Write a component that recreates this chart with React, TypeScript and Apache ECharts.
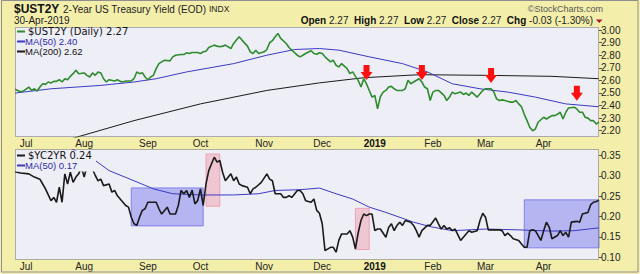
import React, { useEffect, useRef } from "react";
import * as echarts from "echarts";

// ---------- calendar ----------
const HOLIDAYS = [
  "2018-07-04", "2018-09-03", "2018-11-22", "2018-12-05", "2018-12-25",
  "2019-01-01", "2019-01-21", "2019-02-18", "2019-04-19",
];
function buildTradingDays(startIso: string, endIso: string): string[] {
  const out: string[] = [];
  const start = Date.parse(startIso + "T00:00:00Z");
  const end = Date.parse(endIso + "T00:00:00Z");
  for (let t = start; t <= end; t += 86400000) {
    const d = new Date(t);
    const wd = d.getUTCDay();
    const iso = d.toISOString().slice(0, 10);
    if (wd === 0 || wd === 6 || HOLIDAYS.includes(iso)) continue;
    out.push(iso);
  }
  return out;
}
const tradingDays = buildTradingDays("2018-06-26", "2019-04-30");

const MONTH_LABELS: Record<string, string> = {
  "07": "Jul", "08": "Aug", "09": "Sep", "10": "Oct", "11": "Nov", "12": "Dec",
  "01": "2019", "02": "Feb", "03": "Mar", "04": "Apr",
};
const YEAR_MONTHS = ["01"];

const topTicks = [2.2, 2.3, 2.4, 2.5, 2.6, 2.7, 2.8, 2.9, 3.0];
const bottomTicks = [0.1, 0.15, 0.2, 0.25, 0.3, 0.35];

// ---------- data ----------
const ust2y: [string, number][] = [
  ["2018-06-26", 2.53], ["2018-06-27", 2.52], ["2018-06-28", 2.51], ["2018-06-29", 2.515],
  ["2018-07-03", 2.547], ["2018-07-05", 2.52], ["2018-07-06", 2.533], ["2018-07-09", 2.515],
  ["2018-07-10", 2.547], ["2018-07-11", 2.573], ["2018-07-12", 2.568], ["2018-07-13", 2.587],
  ["2018-07-16", 2.579], ["2018-07-17", 2.592], ["2018-07-18", 2.592], ["2018-07-19", 2.605],
  ["2018-07-20", 2.587], ["2018-07-23", 2.613], ["2018-07-24", 2.605], ["2018-07-25", 2.632],
  ["2018-07-26", 2.653], ["2018-07-27", 2.68], ["2018-07-30", 2.653], ["2018-08-01", 2.659],
  ["2018-08-02", 2.64], ["2018-08-03", 2.627], ["2018-08-06", 2.659], ["2018-08-07", 2.64],
  ["2018-08-08", 2.667], ["2018-08-09", 2.659], ["2018-08-10", 2.613], ["2018-08-13", 2.587],
  ["2018-08-14", 2.605], ["2018-08-16", 2.595], ["2018-08-17", 2.605], ["2018-08-20", 2.592],
  ["2018-08-21", 2.587], ["2018-08-22", 2.595], ["2018-08-24", 2.595], ["2018-08-27", 2.613],
  ["2018-08-28", 2.667], ["2018-08-29", 2.653], ["2018-08-30", 2.661], ["2018-08-31", 2.627],
  ["2018-09-04", 2.605], ["2018-09-05", 2.627], ["2018-09-06", 2.64], ["2018-09-07", 2.693],
  ["2018-09-10", 2.733], ["2018-09-11", 2.747], ["2018-09-12", 2.76], ["2018-09-14", 2.755],
  ["2018-09-17", 2.787], ["2018-09-18", 2.8], ["2018-09-20", 2.805], ["2018-09-21", 2.805],
  ["2018-09-24", 2.819], ["2018-09-25", 2.813], ["2018-09-26", 2.821], ["2018-09-28", 2.821],
  ["2018-10-01", 2.813], ["2018-10-02", 2.827], ["2018-10-03", 2.832], ["2018-10-04", 2.861],
  ["2018-10-08", 2.88], ["2018-10-09", 2.872], ["2018-10-10", 2.867], ["2018-10-11", 2.872],
  ["2018-10-12", 2.88], ["2018-10-16", 2.853], ["2018-10-17", 2.893], ["2018-10-18", 2.92],
  ["2018-10-19", 2.947], ["2018-10-22", 2.92], ["2018-10-24", 2.872], ["2018-10-25", 2.827],
  ["2018-10-26", 2.813], ["2018-10-29", 2.84], ["2018-10-30", 2.813], ["2018-11-01", 2.827],
  ["2018-11-02", 2.845], ["2018-11-05", 2.899], ["2018-11-06", 2.915], ["2018-11-07", 2.947],
  ["2018-11-08", 2.973], ["2018-11-09", 2.933], ["2018-11-13", 2.893], ["2018-11-14", 2.861],
  ["2018-11-15", 2.84], ["2018-11-19", 2.8], ["2018-11-20", 2.787], ["2018-11-21", 2.8],
  ["2018-11-23", 2.813], ["2018-11-27", 2.835], ["2018-11-28", 2.813], ["2018-11-29", 2.808],
  ["2018-11-30", 2.82], ["2018-12-03", 2.813], ["2018-12-04", 2.787], ["2018-12-07", 2.747],
  ["2018-12-10", 2.76], ["2018-12-11", 2.72], ["2018-12-12", 2.707], ["2018-12-13", 2.733],
  ["2018-12-17", 2.693], ["2018-12-18", 2.653], ["2018-12-19", 2.667], ["2018-12-20", 2.632],
  ["2018-12-21", 2.6], ["2018-12-24", 2.547], ["2018-12-26", 2.613], ["2018-12-27", 2.573],
  ["2018-12-28", 2.52], ["2018-12-31", 2.467], ["2019-01-02", 2.48], ["2019-01-03", 2.373],
  ["2019-01-04", 2.47], ["2019-01-07", 2.507], ["2019-01-08", 2.52], ["2019-01-09", 2.547],
  ["2019-01-10", 2.552], ["2019-01-11", 2.533], ["2019-01-14", 2.52], ["2019-01-16", 2.52],
  ["2019-01-17", 2.533], ["2019-01-18", 2.6], ["2019-01-22", 2.573], ["2019-01-23", 2.587],
  ["2019-01-25", 2.613], ["2019-01-28", 2.587], ["2019-01-29", 2.547], ["2019-01-30", 2.533],
  ["2019-01-31", 2.44], ["2019-02-01", 2.507], ["2019-02-04", 2.52], ["2019-02-05", 2.52],
  ["2019-02-07", 2.48], ["2019-02-08", 2.44], ["2019-02-11", 2.467], ["2019-02-12", 2.507],
  ["2019-02-13", 2.493], ["2019-02-15", 2.507], ["2019-02-19", 2.488], ["2019-02-20", 2.499],
  ["2019-02-21", 2.48], ["2019-02-22", 2.507], ["2019-02-26", 2.467], ["2019-02-27", 2.493],
  ["2019-02-28", 2.52], ["2019-03-01", 2.533], ["2019-03-04", 2.533], ["2019-03-05", 2.533],
  ["2019-03-06", 2.507], ["2019-03-07", 2.453], ["2019-03-08", 2.44], ["2019-03-11", 2.445],
  ["2019-03-12", 2.44], ["2019-03-14", 2.427], ["2019-03-15", 2.427], ["2019-03-18", 2.44],
  ["2019-03-19", 2.413], ["2019-03-20", 2.39], ["2019-03-21", 2.33], ["2019-03-22", 2.28],
  ["2019-03-25", 2.227], ["2019-03-26", 2.2], ["2019-03-27", 2.213], ["2019-03-28", 2.267],
  ["2019-04-01", 2.307], ["2019-04-02", 2.293], ["2019-04-03", 2.307], ["2019-04-04", 2.32],
  ["2019-04-05", 2.32], ["2019-04-08", 2.33], ["2019-04-09", 2.347], ["2019-04-10", 2.293],
  ["2019-04-11", 2.347], ["2019-04-12", 2.381], ["2019-04-16", 2.387], ["2019-04-17", 2.373],
  ["2019-04-18", 2.347], ["2019-04-22", 2.347], ["2019-04-23", 2.307], ["2019-04-24", 2.3],
  ["2019-04-25", 2.28], ["2019-04-26", 2.28], ["2019-04-29", 2.253], ["2019-04-30", 2.27],
];

const ma50Top: [string, number][] = [
  ["2018-06-26", 2.499], ["2018-07-16", 2.533], ["2018-08-09", 2.56], ["2018-08-27", 2.587],
  ["2018-09-07", 2.613], ["2018-09-24", 2.667], ["2018-10-17", 2.733], ["2018-11-02", 2.8],
  ["2018-11-12", 2.827], ["2018-11-16", 2.845], ["2018-11-30", 2.853], ["2018-12-12", 2.84],
  ["2018-12-28", 2.787], ["2019-01-16", 2.733], ["2019-01-30", 2.667], ["2019-02-12", 2.573],
  ["2019-02-27", 2.533], ["2019-03-13", 2.507], ["2019-03-27", 2.467], ["2019-04-11", 2.413],
  ["2019-04-30", 2.39],
];

const ma200Top: [string, number][] = [
  ["2018-06-26", 2.0], ["2018-07-27", 2.147], ["2018-08-27", 2.28], ["2018-10-01", 2.413],
  ["2018-11-02", 2.52], ["2018-11-30", 2.58], ["2018-12-26", 2.621], ["2019-01-25", 2.645],
  ["2019-03-01", 2.64], ["2019-04-04", 2.632], ["2019-04-30", 2.613],
];

const yc2yr: [string, number][] = [
  ["2018-06-26", 0.31], ["2018-06-28", 0.307], ["2018-07-03", 0.305], ["2018-07-06", 0.297],
  ["2018-07-10", 0.292], ["2018-07-11", 0.28], ["2018-07-12", 0.268], ["2018-07-16", 0.239],
  ["2018-07-17", 0.247], ["2018-07-18", 0.235], ["2018-07-19", 0.272], ["2018-07-20", 0.235],
  ["2018-07-23", 0.305], ["2018-07-24", 0.28], ["2018-07-25", 0.309], ["2018-07-26", 0.284],
  ["2018-07-27", 0.297], ["2018-07-30", 0.305], ["2018-07-31", 0.321], ["2018-08-01", 0.297],
  ["2018-08-02", 0.325], ["2018-08-06", 0.317], ["2018-08-07", 0.301], ["2018-08-08", 0.288],
  ["2018-08-09", 0.292], ["2018-08-10", 0.276], ["2018-08-14", 0.28], ["2018-08-15", 0.26],
  ["2018-08-16", 0.264], ["2018-08-17", 0.251], ["2018-08-20", 0.243], ["2018-08-22", 0.227],
  ["2018-08-23", 0.223], ["2018-08-24", 0.198], ["2018-08-27", 0.182], ["2018-08-28", 0.178],
  ["2018-08-29", 0.198], ["2018-08-30", 0.215], ["2018-08-31", 0.219], ["2018-09-04", 0.235],
  ["2018-09-06", 0.235], ["2018-09-07", 0.235], ["2018-09-10", 0.219], ["2018-09-11", 0.206],
  ["2018-09-13", 0.223], ["2018-09-14", 0.206], ["2018-09-18", 0.206], ["2018-09-19", 0.227],
  ["2018-09-20", 0.264], ["2018-09-21", 0.256], ["2018-09-24", 0.264], ["2018-09-25", 0.247],
  ["2018-09-26", 0.265], ["2018-09-27", 0.231], ["2018-09-28", 0.239], ["2018-10-01", 0.268],
  ["2018-10-02", 0.227], ["2018-10-03", 0.28], ["2018-10-04", 0.313], ["2018-10-05", 0.33],
  ["2018-10-08", 0.346], ["2018-10-09", 0.334], ["2018-10-10", 0.338], ["2018-10-11", 0.309],
  ["2018-10-12", 0.288], ["2018-10-16", 0.305], ["2018-10-17", 0.288], ["2018-10-18", 0.297],
  ["2018-10-19", 0.28], ["2018-10-22", 0.276], ["2018-10-24", 0.272], ["2018-10-25", 0.256],
  ["2018-10-26", 0.268], ["2018-10-29", 0.272], ["2018-10-31", 0.284], ["2018-11-02", 0.305],
  ["2018-11-05", 0.292], ["2018-11-06", 0.288], ["2018-11-07", 0.256], ["2018-11-09", 0.256],
  ["2018-11-12", 0.247], ["2018-11-13", 0.247], ["2018-11-14", 0.251], ["2018-11-15", 0.247],
  ["2018-11-19", 0.264], ["2018-11-20", 0.264], ["2018-11-21", 0.256], ["2018-11-23", 0.239],
  ["2018-11-27", 0.235], ["2018-11-28", 0.243], ["2018-11-29", 0.215], ["2018-11-30", 0.208],
  ["2018-12-03", 0.182], ["2018-12-04", 0.116], ["2018-12-07", 0.124], ["2018-12-10", 0.124],
  ["2018-12-11", 0.112], ["2018-12-12", 0.141], ["2018-12-13", 0.157], ["2018-12-17", 0.157],
  ["2018-12-18", 0.165], ["2018-12-19", 0.149], ["2018-12-20", 0.12], ["2018-12-21", 0.16],
  ["2018-12-24", 0.19], ["2018-12-26", 0.206], ["2018-12-27", 0.202], ["2018-12-28", 0.206],
  ["2018-12-31", 0.206], ["2019-01-02", 0.165], ["2019-01-03", 0.169], ["2019-01-04", 0.169],
  ["2019-01-08", 0.149], ["2019-01-09", 0.173], ["2019-01-10", 0.182], ["2019-01-11", 0.165],
  ["2019-01-14", 0.178], ["2019-01-15", 0.186], ["2019-01-16", 0.178], ["2019-01-17", 0.19],
  ["2019-01-22", 0.186], ["2019-01-23", 0.178], ["2019-01-24", 0.165], ["2019-01-25", 0.149],
  ["2019-01-28", 0.165], ["2019-01-30", 0.178], ["2019-01-31", 0.178], ["2019-02-04", 0.196],
  ["2019-02-05", 0.182], ["2019-02-06", 0.169], ["2019-02-07", 0.178], ["2019-02-08", 0.169],
  ["2019-02-11", 0.172], ["2019-02-12", 0.165], ["2019-02-13", 0.169], ["2019-02-15", 0.141],
  ["2019-02-19", 0.149], ["2019-02-20", 0.157], ["2019-02-21", 0.165], ["2019-02-22", 0.161],
  ["2019-02-26", 0.165], ["2019-02-27", 0.19], ["2019-02-28", 0.208], ["2019-03-01", 0.198],
  ["2019-03-04", 0.167], ["2019-03-05", 0.167], ["2019-03-06", 0.167], ["2019-03-08", 0.167],
  ["2019-03-11", 0.165], ["2019-03-12", 0.153], ["2019-03-13", 0.159], ["2019-03-14", 0.153],
  ["2019-03-15", 0.145], ["2019-03-19", 0.141], ["2019-03-20", 0.132], ["2019-03-21", 0.124],
  ["2019-03-22", 0.124], ["2019-03-25", 0.165], ["2019-03-26", 0.167], ["2019-03-27", 0.165],
  ["2019-03-29", 0.141], ["2019-04-01", 0.165], ["2019-04-02", 0.186], ["2019-04-03", 0.174],
  ["2019-04-04", 0.145], ["2019-04-08", 0.153], ["2019-04-09", 0.165], ["2019-04-10", 0.153],
  ["2019-04-11", 0.161], ["2019-04-12", 0.149], ["2019-04-15", 0.186], ["2019-04-17", 0.188],
  ["2019-04-18", 0.186], ["2019-04-22", 0.206], ["2019-04-23", 0.208], ["2019-04-24", 0.21],
  ["2019-04-25", 0.229], ["2019-04-26", 0.235], ["2019-04-29", 0.237], ["2019-04-30", 0.24],
];

const ma50Bottom: [string, number][] = [
  ["2018-06-26", 0.42], ["2018-07-18", 0.385], ["2018-07-31", 0.355], ["2018-08-07", 0.338],
  ["2018-08-14", 0.313], ["2018-08-27", 0.288], ["2018-09-06", 0.268], ["2018-09-17", 0.256],
  ["2018-10-01", 0.253], ["2018-10-17", 0.253], ["2018-10-30", 0.256], ["2018-11-07", 0.264],
  ["2018-11-20", 0.266], ["2018-11-30", 0.27], ["2018-12-11", 0.256], ["2018-12-19", 0.243],
  ["2018-12-28", 0.223], ["2019-01-08", 0.21], ["2019-01-23", 0.186], ["2019-01-31", 0.175],
  ["2019-02-12", 0.165], ["2019-03-01", 0.169], ["2019-03-19", 0.167], ["2019-04-04", 0.164],
  ["2019-04-16", 0.165], ["2019-04-30", 0.172],
];

// arrows above the 2-year yield (date, level of arrow centre)
const arrowDates = ["2018-12-27", "2019-01-28", "2019-03-05", "2019-04-17"];
const arrowLevels = [2.662, 2.662, 2.638, 2.497];

// shaded zones on the yield-curve panel: [from, to, top, bottom]
const blueZones: [string, string, number, number][] = [
  ["2018-08-24", "2018-10-02", 0.2704, 0.1768],
  ["2019-03-21", "2019-04-30", 0.241, 0.1227],
];
const redZones: [string, string, number, number][] = [
  ["2018-10-03", "2018-10-10", 0.354, 0.225],
  ["2018-12-20", "2018-12-28", 0.22, 0.1185],
];

// ---------- styling ----------
const FONT = '"Liberation Sans", Arial, sans-serif';
const WIDE = '"DejaVu Sans", Verdana, sans-serif';
const YELLOW = "#f3efab";
const PLOT_BG = "#eeeef6";
const GREEN = "#2e8b2e";
const BLUE = "#3a3ac4";
const BLACK = "#1a1a1a";
const GL = 15, GW = 584;
const T_TOP = 27, T_H = 110;
const B_TOP = 149.5, B_H = 110;

function isMonthStart(i: number): boolean {
  return i > 0 && tradingDays[i].slice(5, 7) !== tradingDays[i - 1].slice(5, 7);
}
function monthLabel(v: string): string {
  const m = v.slice(5, 7);
  const t = MONTH_LABELS[m] || "";
  return YEAR_MONTHS.includes(m) ? `{y|${t}}` : t;
}

function makeXAxis(gridIndex: number, margin: number) {
  return {
    type: "category",
    gridIndex,
    data: tradingDays,
    boundaryGap: false,
    axisLine: { show: false },
    axisTick: { show: false },
    splitLine: { show: false },
    axisLabel: {
      interval: (i: number) => isMonthStart(i),
      formatter: monthLabel,
      margin,
      fontSize: 10,
      fontFamily: FONT,
      color: "#222",
      rich: { y: { fontWeight: "bold", fontSize: 10, fontFamily: FONT, color: "#111" } },
    },
  };
}
function makeYAxis(gridIndex: number, min: number, max: number, ticks: number[]) {
  return {
    type: "value",
    gridIndex,
    position: "right",
    min,
    max,
    axisLine: { show: false },
    splitLine: { show: false },
    axisTick: { show: true, customValues: ticks, length: 3, lineStyle: { color: "#555" } },
    axisLabel: {
      customValues: ticks,
      margin: 2,
      fontSize: 10,
      fontFamily: FONT,
      color: "#222",
      formatter: (v: number) => v.toFixed(2),
    },
  };
}

function zoneItems(zones: [string, string, number, number][], color: string, border: string) {
  return zones.map(([a, b, top, bot]) => [
    { xAxis: a, yAxis: top, itemStyle: { color, borderColor: border, borderWidth: 1 } },
    { xAxis: b, yAxis: bot },
  ]);
}

const T = (x: number, y: number, text: string, font: string, fill: string, align = "left") => ({
  type: "text", z: 100, x, y,
  style: { text, font, fill, align, verticalAlign: "middle" },
});
const dash = (x1: number, x2: number, y: number, stroke: string) => ({
  type: "line", z: 100,
  shape: { x1, y1: y, x2, y2: y },
  style: { stroke, lineWidth: 2 },
});

const option: any = {
  animation: false,
  backgroundColor: YELLOW,
  grid: [
    { left: GL, top: T_TOP, width: GW, height: T_H, show: true, backgroundColor: PLOT_BG, borderWidth: 0 },
    { left: GL, top: B_TOP, width: GW, height: B_H, show: true, backgroundColor: PLOT_BG, borderWidth: 0 },
  ],
  xAxis: [makeXAxis(0, 1), makeXAxis(1, 2)],
  yAxis: [makeYAxis(0, 2.15, 3.024, topTicks), makeYAxis(1, 0.094, 0.365, bottomTicks)],
  series: [
    {
      type: "line", xAxisIndex: 1, yAxisIndex: 1, data: [], z: 1, silent: true,
      markArea: {
        silent: true,
        data: [
          ...zoneItems(blueZones, "rgba(110,110,236,0.45)", "rgba(100,100,232,0.7)"),
          ...zoneItems(redZones, "rgba(240,125,145,0.35)", "rgba(232,130,150,0.6)"),
        ],
      },
    },
    {
      name: "MA(200)", type: "line", xAxisIndex: 0, yAxisIndex: 0, data: ma200Top,
      symbol: "none", lineStyle: { color: BLACK, width: 1 }, z: 2,
    },
    {
      name: "MA(50)", type: "line", xAxisIndex: 0, yAxisIndex: 0, data: ma50Top,
      symbol: "none", lineStyle: { color: BLUE, width: 1 }, z: 2,
    },
    {
      name: "$UST2Y", type: "line", xAxisIndex: 0, yAxisIndex: 0, data: ust2y,
      symbol: "none", lineStyle: { color: GREEN, width: 1.6 }, z: 3,
      markPoint: {
        symbol: "path://M3 0 L9 0 L9 7 L12 7 L6 15 L0 7 L3 7 Z",
        symbolSize: [12, 15],
        itemStyle: { color: "#ff1010" },
        label: { show: false },
        data: arrowDates.map((d, i) => ({ coord: [d, arrowLevels[i]] })),
      },
    },
    {
      name: "MA(50) yc", type: "line", xAxisIndex: 1, yAxisIndex: 1, data: ma50Bottom,
      symbol: "none", lineStyle: { color: BLUE, width: 1 }, z: 2,
    },
    {
      name: "$YC2YR", type: "line", xAxisIndex: 1, yAxisIndex: 1, data: yc2yr,
      symbol: "none", lineStyle: { color: BLACK, width: 1.6 }, z: 3,
    },
  ],
  graphic: [
    // outer frame
    { type: "rect", z: 100, shape: { x: 1.5, y: 0.5, width: 636.5, height: 271.5 }, style: { fill: "none", stroke: "#8f8f8f", lineWidth: 1 } },
    // plot frames (dotted)
    { type: "rect", z: 100, shape: { x: GL + 0.5, y: T_TOP + 0.5, width: GW - 1, height: T_H - 1 }, style: { fill: "none", stroke: "#6a6a6a", lineWidth: 1, lineDash: [1, 1] } },
    { type: "rect", z: 100, shape: { x: GL + 0.5, y: B_TOP, width: GW - 1, height: B_H }, style: { fill: "none", stroke: "#6a6a6a", lineWidth: 1, lineDash: [1, 1] } },
    // header
    T(14, 8.5, "$UST2Y", `bold 12px ${FONT}`, "#111"),
    T(63, 9, "2-Year US Treasury Yield (EOD)", `10px ${FONT}`, "#222"),
    T(209, 9, "INDX", `8.5px ${FONT}`, "#222"),
    T(14, 20.5, "30-Apr-2019", `10px ${FONT}`, "#222"),
    T(603, 8.5, "\u00A9StockCharts.com", `9px ${FONT}`, "#555", "right"),
    {
      type: "text", z: 100, x: 593, y: 20.5,
      style: {
        text: "{b|Open} 2.27  {b|High} 2.27  {b|Low} 2.27  {b|Close} 2.27  {b|Chg} -0.03 (-1.30%)",
        fontSize: 10, fontFamily: FONT, fill: "#222", align: "right", verticalAlign: "middle",
        rich: { b: { fontWeight: "bold", fontSize: 10, fontFamily: FONT, fill: "#111" } },
      },
    },
    { type: "polygon", z: 100, shape: { points: [[596, 19.5], [602.5, 19.5], [599.25, 23]] }, style: { fill: "#b0102a" } },
    // top legend
    { type: "rect", z: 90, shape: { x: 16, y: 28, width: 118, height: 29 }, style: { fill: PLOT_BG } },
    dash(17, 25, 31.5, GREEN),
    T(28, 31.5, "$UST2Y (Daily) 2.27", `10px ${WIDE}`, "#111"),
    dash(17, 25, 41.5, BLUE),
    T(25, 41.5, "MA(50) 2.40", `9.5px ${FONT}`, "#2a2ab0"),
    dash(17, 25, 51.5, BLACK),
    T(25, 51.5, "MA(200) 2.62", `9.5px ${FONT}`, "#111"),
    // bottom legend
    { type: "rect", z: 90, shape: { x: 16, y: 150.5, width: 80, height: 21 }, style: { fill: PLOT_BG } },
    dash(17, 25, 155.5, BLACK),
    T(28, 155.5, "$YC2YR 0.24", `10px ${WIDE}`, "#111"),
    dash(17, 25, 165.5, BLUE),
    T(25, 165.5, "MA(50) 0.17", `9.5px ${FONT}`, "#2a2ab0"),
  ],
};

export default function App() {
  const ref = useRef<HTMLDivElement>(null);
  useEffect(() => {
    if (!ref.current) return;
    const chart = echarts.init(ref.current, null, { renderer: "svg", width: 640, height: 274 });
    chart.setOption(option);
    return () => chart.dispose();
  }, []);
  return (
    <div
      ref={ref}
      style={{ position: "fixed", left: 0, top: 0, width: 640, height: 274, background: "#fff" }}
    />
  );
}
